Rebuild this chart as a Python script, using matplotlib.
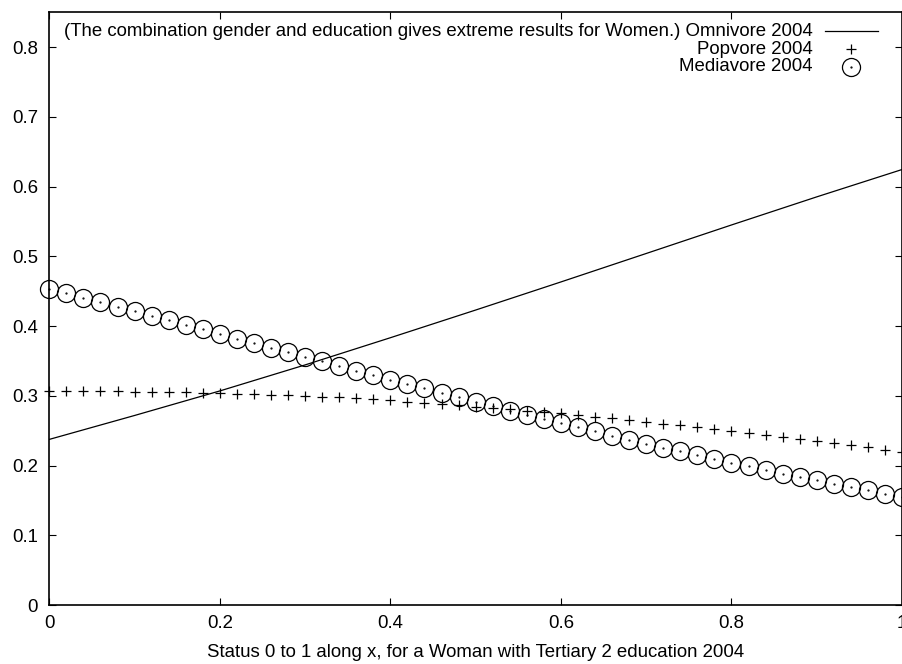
"""
Predicted shares of Omnivore, Popvore and Mediavore by status (2004),
for a woman with tertiary 2 education. Plain gnuplot-like look.
"""

import matplotlib

matplotlib.use("Agg")
import matplotlib.pyplot as plt

plt.rcParams["font.family"] = ["Liberation Sans", "DejaVu Sans"]

# status grid for the Omnivore curve
OMNI_X = [0.0, 0.1, 0.2, 0.3, 0.4, 0.5, 0.6, 0.7, 0.8, 0.9, 1.0]
OMNI_Y = [0.2375, 0.2718, 0.3070, 0.3443, 0.3833, 0.4230, 0.4633, 0.5041,
          0.5450, 0.5853, 0.6245]

# status grid for the point series (step 0.02)
POINT_X = [i / 50 for i in range(51)]

POPVORE = [0.3072, 0.3071, 0.3069, 0.3067, 0.3064, 0.3061, 0.3057, 0.3053,
           0.3048, 0.3043, 0.3038, 0.3032, 0.3025, 0.3017, 0.3008, 0.2999,
           0.2989, 0.2977, 0.2964, 0.2950, 0.2935, 0.2917, 0.2900, 0.2881,
           0.2862, 0.2843, 0.2825, 0.2807, 0.2789, 0.2770, 0.2748, 0.2724,
           0.2700, 0.2676, 0.2651, 0.2627, 0.2602, 0.2576, 0.2549, 0.2522,
           0.2496, 0.2470, 0.2443, 0.2415, 0.2384, 0.2352, 0.2321, 0.2290,
           0.2259, 0.2226, 0.2192]

MEDIAVORE = [0.4538, 0.4475, 0.4409, 0.4343, 0.4280, 0.4214, 0.4150, 0.4084,
             0.4018, 0.3954, 0.3888, 0.3821, 0.3754, 0.3689, 0.3624, 0.3558,
             0.3494, 0.3427, 0.3361, 0.3297, 0.3233, 0.3168, 0.3105, 0.3040,
             0.2976, 0.2911, 0.2849, 0.2788, 0.2728, 0.2669, 0.2609, 0.2550,
             0.2489, 0.2428, 0.2368, 0.2313, 0.2256, 0.2203, 0.2150, 0.2097,
             0.2042, 0.1990, 0.1936, 0.1884, 0.1834, 0.1786, 0.1738, 0.1691,
             0.1644, 0.1598, 0.1548]

XTICKS = [0, 0.2, 0.4, 0.6, 0.8, 1.0]
XTICK_LABELS = ["0", "0.2", "0.4", "0.6", "0.8", "1"]
YTICKS = [0, 0.1, 0.2, 0.3, 0.4, 0.5, 0.6, 0.7, 0.8]
YTICK_LABELS = ["0", "0.1", "0.2", "0.3", "0.4", "0.5", "0.6", "0.7", "0.8"]

OMNI_LABEL = ("(The combination gender and education gives extreme results "
              "for Women.) Omnivore 2004")
POP_LABEL = "Popvore 2004"
MEDIA_LABEL = "Mediavore 2004"
XLABEL = "Status 0 to 1 along x, for a Woman with Tertiary 2 education 2004"

FS = 13.4
PLUS = dict(marker="+", ms=7.5, mew=0.9, color="black")
CIRCLE = dict(marker="o", ms=13, mew=0.9, mfc="none", mec="black")
DOT = dict(marker=".", ms=1.2, color="black")

fig = plt.figure(figsize=(9.03, 6.64), dpi=100)
ax = fig.add_axes([49.3 / 903, 59 / 664, 852.7 / 903, 592.7 / 664])

ax.plot(OMNI_X, OMNI_Y, color="black", lw=0.9)
ax.plot(POINT_X, POPVORE, ls="none", clip_on=False, **PLUS)
ax.plot(POINT_X, MEDIAVORE, ls="none", clip_on=False, **CIRCLE)
ax.plot(POINT_X, MEDIAVORE, ls="none", clip_on=False, **DOT)

ax.set_xlim(0, 1)
ax.set_ylim(0, 0.85)
ax.set_xticks(XTICKS, XTICK_LABELS)
ax.set_yticks(YTICKS, YTICK_LABELS)
ax.tick_params(direction="in", length=5, width=0.8, labelsize=FS,
               top=True, right=True)
ax.tick_params(axis="y", pad=8)
ax.tick_params(axis="x", pad=7)
for s in ax.spines.values():
    s.set_linewidth(1.2)
ax.set_xlabel(XLABEL, fontsize=FS, labelpad=9)

# key in the top right corner, text right-aligned like gnuplot
key_x = 0.8953
sample_l, sample_r = 0.9097, 0.9717
sample_c = (sample_l + sample_r) / 2
rows = [0.9684, 0.9375, 0.9082]
tr = ax.transAxes
ax.text(key_x, rows[0], OMNI_LABEL, transform=tr, ha="right", va="center",
        fontsize=FS)
ax.plot([sample_l, sample_r], [rows[0], rows[0]], transform=tr,
        color="black", lw=0.9)
ax.text(key_x, rows[1], POP_LABEL, transform=tr, ha="right", va="center",
        fontsize=FS)
ax.plot([sample_c], [rows[1]], transform=tr, **PLUS)
ax.text(key_x, rows[2], MEDIA_LABEL, transform=tr, ha="right", va="center",
        fontsize=FS)
ax.plot([sample_c], [rows[2]], transform=tr, **CIRCLE)
ax.plot([sample_c], [rows[2]], transform=tr, **DOT)

fig.savefig("out.png", dpi=100)
plt.close(fig)
